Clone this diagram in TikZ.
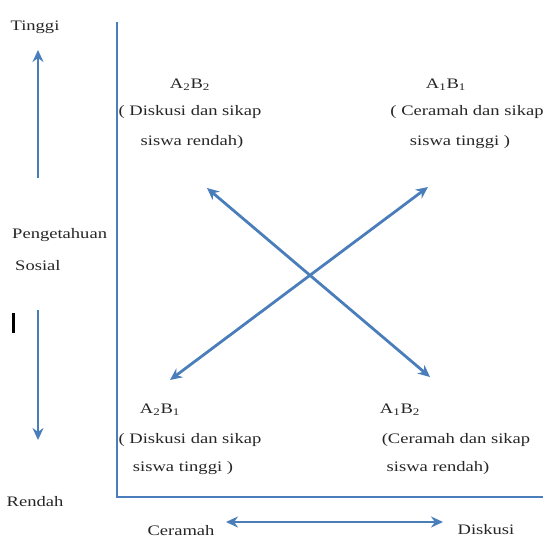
\documentclass[tikz,border=0pt]{standalone}
\usepackage{fontspec}
\setmainfont{Liberation Serif}
\usetikzlibrary{arrows.meta}
\definecolor{axblue}{HTML}{4A7EBB}
\newcommand\widetxt[1]{\scalebox{1.28}[1]{#1}}
\tikzset{
  x=1pt,y=-1pt,
  conn/.style={draw=axblue,line width=2.8pt},
  tipend/.style={-{Stealth[length=12pt,width=11pt]}},
  tipboth/.style={{Stealth[length=12pt,width=11pt]}-{Stealth[length=12pt,width=11pt]}},
  lbl/.style={inner sep=0pt,font=\fontsize{14.5}{17}\selectfont,text=black!85},
}
\begin{document}
\begin{tikzpicture}
\useasboundingbox (0,0) rectangle (543,539);
% axes
\coordinate (atop) at (117,22);
\coordinate (aorg) at (117,497);
\coordinate (aright) at (543,497);
\draw[conn] (atop) -- (aorg) -- (aright);
% left labels
\node[lbl] (tinggi) at (35,27) {\widetxt{Tinggi}};
\coordinate (u1) at (38,178);
\coordinate (u2) at (38,50);
\draw[conn,tipend] (u1) -- (u2);
\node[lbl,anchor=west] (peng) at (12,235) {\widetxt{Pengetahuan}};
\node[lbl,anchor=west] (sos) at (15,266) {\widetxt{Sosial}};
\node[fill=black,inner sep=0pt,minimum width=3pt,minimum height=20pt] (bar) at (13,323) {};
\coordinate (d1) at (38,310);
\coordinate (d2) at (38,440);
\draw[conn,tipend] (d1) -- (d2);
\node[lbl] (rendah) at (35,502) {\widetxt{Rendah}};
% bottom labels
\node[lbl] (ceramah) at (181,531) {\widetxt{Ceramah}};
\node[lbl] (diskusi) at (486,530) {\widetxt{Diskusi}};
\coordinate (h1) at (226,522);
\coordinate (h2) at (443,522);
\draw[conn,tipboth] (h1) -- (h2);
% quadrant labels
\node[lbl] (q1a) at (190,85) {\widetxt{A\textsubscript{2}B\textsubscript{2}}};
\node[lbl] (q1b) at (190,112) {\widetxt{( Diskusi dan sikap}};
\node[lbl] (q1c) at (192,142) {\widetxt{siswa rendah)}};
\node[lbl] (q2a) at (446,85) {\widetxt{A\textsubscript{1}B\textsubscript{1}}};
\node[lbl] (q2b) at (467,112) {\widetxt{( Ceramah dan sikap}};
\node[lbl] (q2c) at (460,142) {\widetxt{siswa tinggi )}};
\node[lbl] (q3a) at (160,410) {\widetxt{A\textsubscript{2}B\textsubscript{1}}};
\node[lbl] (q3b) at (190,440) {\widetxt{( Diskusi dan sikap}};
\node[lbl] (q3c) at (183,468) {\widetxt{siswa tinggi )}};
\node[lbl] (q4a) at (400,410) {\widetxt{A\textsubscript{1}B\textsubscript{2}}};
\node[lbl] (q4b) at (456,440) {\widetxt{(Ceramah dan sikap}};
\node[lbl] (q4c) at (438,468) {\widetxt{siswa rendah)}};
% diagonals
\coordinate (x1) at (207,188);
\coordinate (x2) at (430,377);
\coordinate (y1) at (428,187);
\coordinate (y2) at (170,380);
\draw[conn,tipboth] (x1) -- (x2);
\draw[conn,tipboth] (y1) -- (y2);
\end{tikzpicture}
\end{document}
